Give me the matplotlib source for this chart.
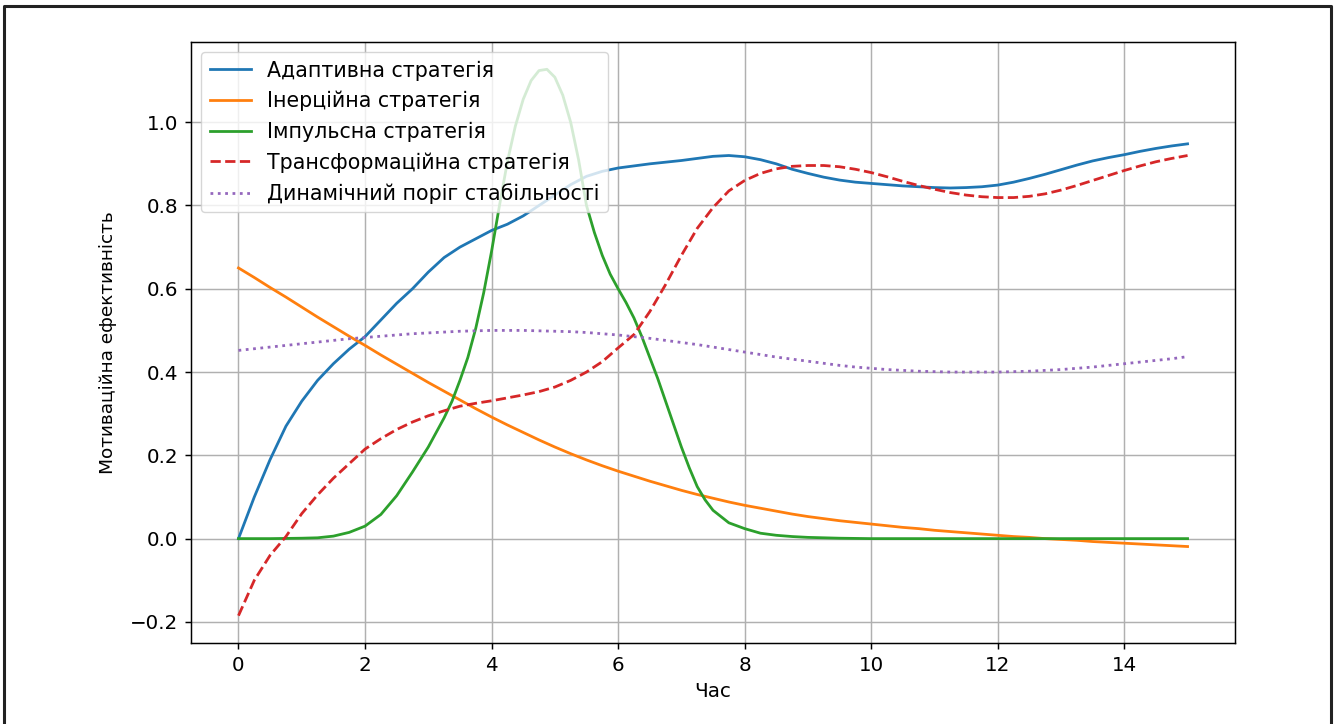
import matplotlib
matplotlib.use("Agg")
import matplotlib.pyplot as plt
from matplotlib.lines import Line2D

# time axis (hours)
hours = [i * 0.25 for i in range(61)]

adaptive = [0.0, 0.10, 0.19, 0.27, 0.33, 0.38, 0.42, 0.455, 0.485, 0.525,
            0.565, 0.60, 0.64, 0.675, 0.70, 0.72, 0.74, 0.755, 0.775, 0.80,
            0.825, 0.85, 0.87, 0.882, 0.89, 0.895, 0.90, 0.904, 0.908, 0.913,
            0.918, 0.92, 0.917, 0.91, 0.90, 0.887, 0.877, 0.868, 0.861, 0.856,
            0.853, 0.85, 0.847, 0.845, 0.843, 0.842, 0.843, 0.845, 0.849, 0.856,
            0.865, 0.875, 0.886, 0.897, 0.907, 0.915, 0.922, 0.93, 0.937, 0.943,
            0.948]

inertial = [0.650, 0.627, 0.603, 0.580, 0.556, 0.532, 0.509, 0.486, 0.464, 0.441,
            0.419, 0.397, 0.375, 0.354, 0.333, 0.312, 0.292, 0.273, 0.255, 0.237,
            0.220, 0.204, 0.189, 0.175, 0.162, 0.150, 0.138, 0.127, 0.116, 0.106,
            0.097, 0.088, 0.080, 0.073, 0.066, 0.059, 0.053, 0.048, 0.043, 0.039,
            0.035, 0.031, 0.027, 0.024, 0.020, 0.017, 0.014, 0.011, 0.008, 0.005,
            0.003, 0.0, -0.002, -0.004, -0.007, -0.009, -0.011, -0.013, -0.015, -0.017,
            -0.019]

transform = [-0.185, -0.10, -0.04, 0.005, 0.06, 0.105, 0.145, 0.18, 0.215, 0.24,
             0.262, 0.28, 0.295, 0.307, 0.318, 0.325, 0.331, 0.338, 0.345, 0.353,
             0.364, 0.38, 0.40, 0.425, 0.458, 0.49, 0.545, 0.61, 0.68, 0.745,
             0.795, 0.835, 0.86, 0.877, 0.888, 0.894, 0.896, 0.896, 0.893, 0.887,
             0.879, 0.869, 0.858, 0.848, 0.839, 0.831, 0.825, 0.821, 0.819, 0.819,
             0.822, 0.828, 0.837, 0.848, 0.86, 0.872, 0.884, 0.895, 0.905, 0.913,
             0.92]

threshold = [0.452, 0.456, 0.46, 0.464, 0.468, 0.472, 0.476, 0.48, 0.483, 0.486,
             0.489, 0.492, 0.494, 0.496, 0.498, 0.499, 0.5, 0.5, 0.5, 0.499,
             0.498, 0.497, 0.495, 0.492, 0.489, 0.485, 0.481, 0.476, 0.471, 0.466,
             0.46, 0.454, 0.448, 0.442, 0.436, 0.431, 0.426, 0.421, 0.416, 0.412,
             0.409, 0.406, 0.404, 0.402, 0.401, 0.4, 0.4, 0.4, 0.4, 0.401,
             0.402, 0.404, 0.406, 0.409, 0.412, 0.416, 0.42, 0.424, 0.428, 0.432,
             0.437]

# impulse strategy read on a finer grid around the peak
impulse_hours = [0, 0.5, 1.0, 1.25, 1.5, 1.75, 2.0, 2.25, 2.5, 2.75, 3.0, 3.25,
                 3.375, 3.5, 3.625, 3.75, 3.875, 4.0, 4.125, 4.25, 4.375, 4.5,
                 4.625, 4.75, 4.875, 5.0, 5.125, 5.25, 5.375, 5.5, 5.625, 5.75,
                 5.875, 6.0, 6.125, 6.25, 6.375, 6.5, 6.625, 6.75, 6.875, 7.0,
                 7.125, 7.25, 7.375, 7.5, 7.75, 8.0, 8.25, 8.5, 8.75, 9.0, 9.5,
                 10, 12, 15]
impulse = [0.0, 0.0, 0.001, 0.002, 0.006, 0.015, 0.03, 0.058, 0.103, 0.16, 0.22, 0.29,
           0.33, 0.38, 0.435, 0.505, 0.59, 0.69, 0.80, 0.905, 0.99, 1.055,
           1.10, 1.124, 1.127, 1.108, 1.065, 1.0, 0.91, 0.80, 0.735, 0.68,
           0.635, 0.60, 0.567, 0.53, 0.485, 0.435, 0.385, 0.33, 0.275, 0.22,
           0.17, 0.125, 0.093, 0.068, 0.038, 0.024, 0.013, 0.008, 0.005, 0.003, 0.001,
           0.0, 0.0, 0.0]

s = 1.33
plt.rcParams['font.size'] = 14.3
plt.rcParams['lines.linewidth'] = 1.5 * s
plt.rcParams['axes.linewidth'] = 0.8 * s
plt.rcParams['grid.linewidth'] = 0.8 * s
plt.rcParams['xtick.major.width'] = 0.8 * s
plt.rcParams['ytick.major.width'] = 0.8 * s
plt.rcParams['xtick.major.size'] = 3.5 * s
plt.rcParams['ytick.major.size'] = 3.5 * s
plt.rcParams['xtick.major.pad'] = 3.5 * s
plt.rcParams['ytick.major.pad'] = 3.5 * s

fig = plt.figure(figsize=(13.34, 7.24), dpi=100)
ax = fig.add_axes([0.1432, 0.1119, 0.7826, 0.8301])

ax.plot(hours, adaptive, label='Адаптивна стратегія')
ax.plot(hours, inertial, label='Інерційна стратегія')
ax.plot(impulse_hours, impulse, label='Імпульсна стратегія')
ax.plot(hours, transform, '--', label='Трансформаційна стратегія')
ax.plot(hours, threshold, ':', label='Динамічний поріг стабільності')

ax.set_xlabel('Час', labelpad=4 * s)
ax.set_ylabel('Мотиваційна ефективність', fontsize=13.3, labelpad=9)
ax.grid(True)
ax.legend(loc='upper left', fontsize=14.8)

# frame around the picture (open at the bottom)
fig.add_artist(Line2D([0.003, 0.003, 0.9978, 0.9978], [0.0, 0.9917, 0.9917, 0.0],
                      transform=fig.transFigure, color='#222222', linewidth=2.2))

plt.savefig('out.png', dpi=100)
